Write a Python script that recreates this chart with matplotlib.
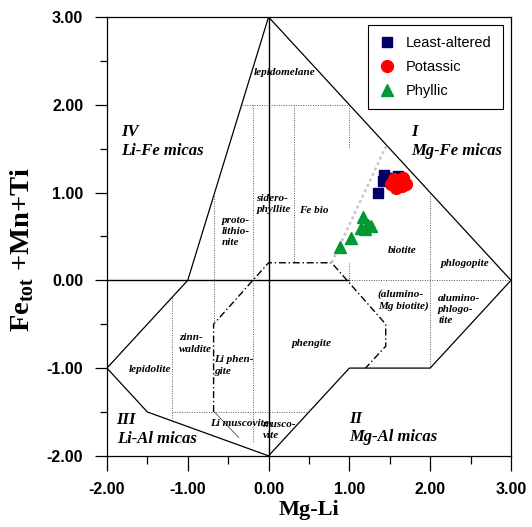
import matplotlib
matplotlib.use("Agg")
import matplotlib.pyplot as plt
from matplotlib.ticker import MultipleLocator, FormatStrFormatter

plt.rcParams['mathtext.fontset'] = 'custom'
plt.rcParams['mathtext.rm'] = 'Liberation Serif:bold'
plt.rcParams['mathtext.bf'] = 'Liberation Serif:bold'

# sample data (Mg-Li, Fe_tot+Mn+Ti)
least_x = [1.36, 1.43, 1.42, 1.47, 1.55, 1.60]
least_y = [0.99, 1.20, 1.13, 1.17, 1.17, 1.19]
potassic_x = [1.52, 1.55, 1.60, 1.62, 1.66, 1.70, 1.58, 1.65]
potassic_y = [1.10, 1.16, 1.10, 1.14, 1.17, 1.10, 1.05, 1.08]
phyllic_x = [0.88, 1.02, 1.17, 1.15, 1.23, 1.27, 1.19]
phyllic_y = [0.38, 0.48, 0.72, 0.60, 0.63, 0.62, 0.59]

# diagram template: field boundaries
outline_x = [0, -1, -2, -1.5, 0, 1, 2, 3, 0]
outline_y = [3, 0, -1, -1.5, -2, -1, -1, 0, 3]
phengite_x = [-0.68, -0.68, 0, 0.78, 1.45, 1.45, 1.2]
phengite_y = [-1.5, -0.5, 0.2, 0.2, -0.5, -0.75, -1.0]
dotted_segments = [
    ([-0.33, 1.0], [2.0, 2.0]),
    ([1.0, 1.0], [2.0, 1.5]),
    ([-0.19, -0.19], [2.0, -1.85]),
    ([0.32, 0.32], [2.0, 0.2]),
    ([-0.68, -0.68], [0.96, -0.5]),
    ([-1.2, -1.2], [-0.2, -1.6]),
    ([-1.2, 0.5], [-1.5, -1.5]),
    ([1.0, 1.0], [0.2, 0.0]),
    ([2.0, 2.0], [1.0, -1.0]),
    ([1.0, 3.0], [0.0, 0.0]),
]
gray_x = [0.78, 1.46]
gray_y = [0.2, 1.54]

fig = plt.figure(figsize=(5.32, 5.27), dpi=100)
ax = fig.add_axes([0.201, 0.135, 0.7595, 0.8327])

ax.plot([0, 0], [-2, 3], color='black', lw=1.0)
ax.plot([-2, 1], [0, 0], color='black', lw=1.0)
ax.plot(outline_x, outline_y, color='black', lw=0.9)
ax.plot(phengite_x, phengite_y, color='black', lw=1.0, ls=(0, (5, 2, 1, 2)))
for sx, sy in dotted_segments:
    ax.plot(sx, sy, color='0.35', lw=0.7, ls=(0, (1, 1.5)))
ax.plot([-0.67, -0.37], [-1.5, -1.79], color='0.3', lw=0.6)
ax.plot(gray_x, gray_y, color='#c8c8c8', lw=1.8, ls=(0, (1.2, 1.2)))

ax.plot(least_x, least_y, 's', color='#000066', ms=7.5, ls='none', label='Least-altered', zorder=5)
ax.plot(potassic_x, potassic_y, 'o', color='#ff0000', ms=8.5, ls='none', label='Potassic', zorder=6)
ax.plot(phyllic_x, phyllic_y, '^', color='#009933', ms=8.5, ls='none', label='Phyllic', zorder=5)

lab = dict(family='Liberation Serif', style='italic', weight='bold', fontsize=8, linespacing=1.3)
big = dict(family='Liberation Serif', style='italic', weight='bold', fontsize=12, linespacing=1.2)

ax.text(0.2, 2.37, 'lepidomelane', ha='center', va='center', **lab)
ax.text(-0.15, 0.87, 'sidero-\nphyllite', ha='left', va='center', **lab)
ax.text(0.38, 0.80, 'Fe bio', ha='left', va='center', **lab)
ax.text(-0.58, 0.56, 'proto-\nlithio-\nnite', ha='left', va='center', **lab)
ax.text(1.66, 0.34, 'biotite', ha='center', va='center', **lab)
ax.text(2.43, 0.19, 'phlogopite', ha='center', va='center', **lab)
ax.text(1.35, -0.23, '(alumino-\nMg biotite)', ha='left', va='center', **lab)
ax.text(2.10, -0.33, 'alumino-\nphlogo-\ntite', ha='left', va='center', **lab)
ax.text(0.53, -0.72, 'phengite', ha='center', va='center', **lab)
ax.text(-1.11, -0.72, 'zinn-\nwaldite', ha='left', va='center', **lab)
ax.text(-0.67, -0.97, 'Li phen-\ngite', ha='left', va='center', **lab)
ax.text(-1.47, -1.02, 'lepidolite', ha='center', va='center', **lab)
ax.text(-0.36, -1.63, 'Li muscovite', ha='center', va='center', **lab)
ax.text(-0.07, -1.71, 'musco-\nvite', ha='left', va='center', **lab)

ax.text(-1.82, 1.58, 'IV\nLi-Fe micas', ha='left', va='center', **big)
ax.text(1.77, 1.58, 'I\nMg-Fe micas', ha='left', va='center', **big)
ax.text(-1.88, -1.70, 'III\nLi-Al micas', ha='left', va='center', **big)
ax.text(1.0, -1.68, 'II\nMg-Al micas', ha='left', va='center', **big)

ax.set_xlim(-2, 3)
ax.set_ylim(-2, 3)
ax.xaxis.set_major_locator(MultipleLocator(1))
ax.xaxis.set_minor_locator(MultipleLocator(0.5))
ax.yaxis.set_major_locator(MultipleLocator(1))
ax.yaxis.set_minor_locator(MultipleLocator(0.5))
ax.xaxis.set_major_formatter(FormatStrFormatter('%.2f'))
ax.yaxis.set_major_formatter(FormatStrFormatter('%.2f'))
ax.tick_params(axis='x', which='major', direction='out', length=10.8, width=0.9, pad=8)
ax.tick_params(axis='x', which='minor', direction='out', length=5.8, width=0.9)
ax.tick_params(axis='y', which='major', direction='out', length=8.6, width=0.9, pad=8.5)
ax.tick_params(axis='y', which='minor', direction='out', length=5, width=0.9)
for t in ax.get_xticklabels() + ax.get_yticklabels():
    t.set_fontfamily('Liberation Sans')
    t.set_fontweight('bold')
    t.set_fontsize(11.5)
for s in ax.spines.values():
    s.set_linewidth(0.9)

ax.set_xlabel('Mg-Li', family='Liberation Serif', weight='bold', fontsize=16)
ax.set_ylabel('Fe$_{\\mathrm{tot}}$ +Mn+Ti', family='Liberation Serif', weight='bold', fontsize=20.5)
ax.xaxis.set_label_coords(0.5, -0.1)
ax.yaxis.set_label_coords(-0.175, 0.47)

leg = ax.legend(loc='upper right', bbox_to_anchor=(0.980, 0.982), borderaxespad=0, frameon=True,
                fancybox=False, edgecolor='black', framealpha=1,
                prop={'family': 'Liberation Sans', 'size': 10.5},
                handletextpad=0.7, labelspacing=0.7, borderpad=0.75, handlelength=1.2)
leg.get_frame().set_linewidth(0.8)

fig.savefig('out.png', dpi=100)
